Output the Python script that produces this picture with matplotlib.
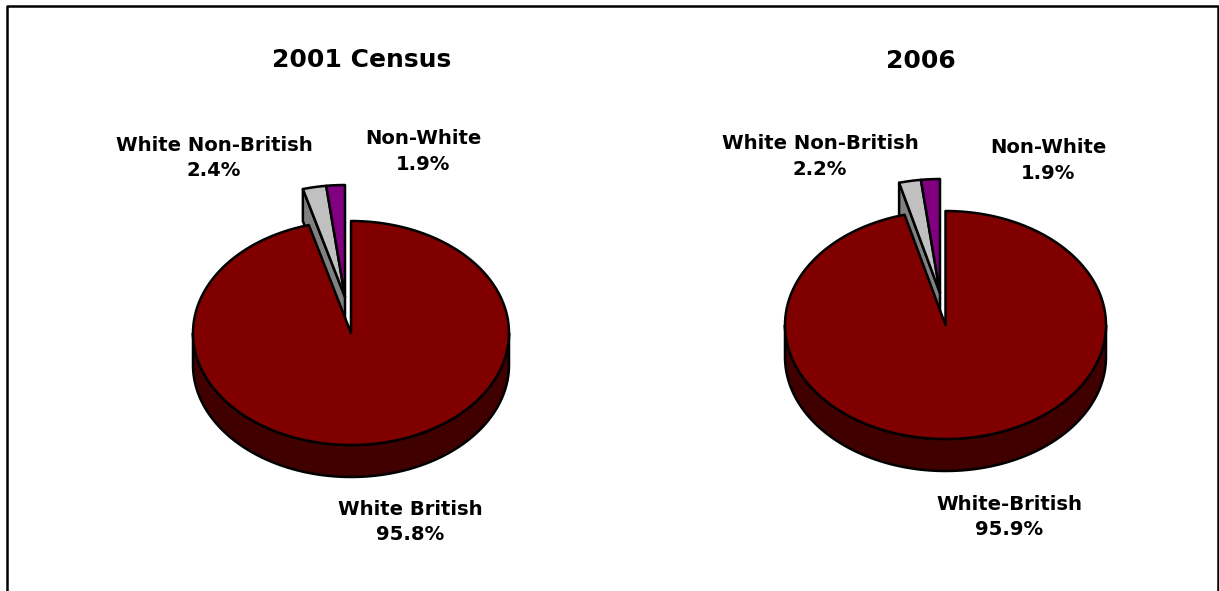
import numpy as np
import matplotlib.pyplot as plt
from matplotlib.patches import Polygon

titles = ["2001 Census", "2006"]
labels_2001 = ["White British", "White Non-British", "Non-White"]
labels_2006 = ["White-British", "White Non-British", "Non-White"]
shares_2001 = [95.8, 2.4, 1.9]
shares_2006 = [95.9, 2.2, 1.9]

RED = "#800000"
RED_DARK = "#400000"
GREY = "#C0C0C0"
GREY_DARK = "#808080"
PURPLE = "#800080"


def rim(cx, cy, a, b, t0, t1):
    # points on the top ellipse, angle clockwise from 12 o'clock
    t = np.radians(np.linspace(t0, t1, 200))
    return np.column_stack([cx + a * np.sin(t), cy - b * np.cos(t)])


def draw_pie(ax, shares, cx, cy, a, b, depth, shift):
    ends = np.cumsum(shares) / np.sum(shares) * 360
    red_end, grey_end = ends[0], ends[1]
    lw = 1.8

    # pulled out slices go behind the big one
    ox, oy = cx + shift[0], cy + shift[1]
    edge = rim(ox, oy, a, b, red_end, red_end)[0]
    wall = [edge, (ox, oy), (ox, oy + depth), (edge[0], edge[1] + depth)]
    ax.add_patch(Polygon(wall, fc=GREY_DARK, ec="black", lw=lw, joinstyle="round"))
    grey = np.vstack([[(ox, oy)], rim(ox, oy, a, b, red_end, grey_end)])
    ax.add_patch(Polygon(grey, fc=GREY, ec="black", lw=lw, joinstyle="round"))
    purple = np.vstack([[(ox, oy)], rim(ox, oy, a, b, grey_end, 360)])
    ax.add_patch(Polygon(purple, fc=PURPLE, ec="black", lw=lw, joinstyle="round"))

    # side wall of the big slice
    low = rim(cx, cy, a, b, 90, 270)
    side = np.vstack([low, (low + [0, depth])[::-1]])
    ax.add_patch(Polygon(side, fc=RED_DARK, ec="black", lw=lw, joinstyle="round"))

    top = np.vstack([[(cx, cy)], rim(cx, cy, a, b, 0, red_end)])
    ax.add_patch(Polygon(top, fc=RED, ec="black", lw=lw, joinstyle="round"))


fig = plt.figure(figsize=(12.19, 5.91), dpi=100)
ax = fig.add_axes([0, 0, 1, 1])
ax.set_xlim(0, 1219)
ax.set_ylim(591, 0)
ax.axis("off")

# frame is open at the bottom
ax.plot([7, 7, 1218, 1218], [591, 6, 6, 591], color="black", lw=1.8)

draw_pie(ax, shares_2001, 351, 333, 158, 112, 32, (-6, -36))
draw_pie(ax, shares_2006, 945.5, 325, 160.5, 114, 32, (-5.5, -32))

title_style = dict(ha="center", va="center", fontsize=18, fontweight="bold", color="black")
label_style = dict(ha="center", va="center", fontsize=14.1, fontweight="bold", color="black", linespacing=1.42)

ax.text(361.5, 60, titles[0], **title_style)
ax.text(921, 61, titles[1], **title_style)


def label(x, y, name, value):
    ax.text(x, y, f"{name}\n{value}%", **label_style)


label(410, 522, labels_2001[0], shares_2001[0])
label(214, 158, labels_2001[1], shares_2001[1])
label(423, 151.5, labels_2001[2], shares_2001[2])
label(1009, 517, labels_2006[0], shares_2006[0])
label(820, 156.5, labels_2006[1], shares_2006[1])
label(1048, 160.5, labels_2006[2], shares_2006[2])

fig.savefig("out.png", dpi=100)
